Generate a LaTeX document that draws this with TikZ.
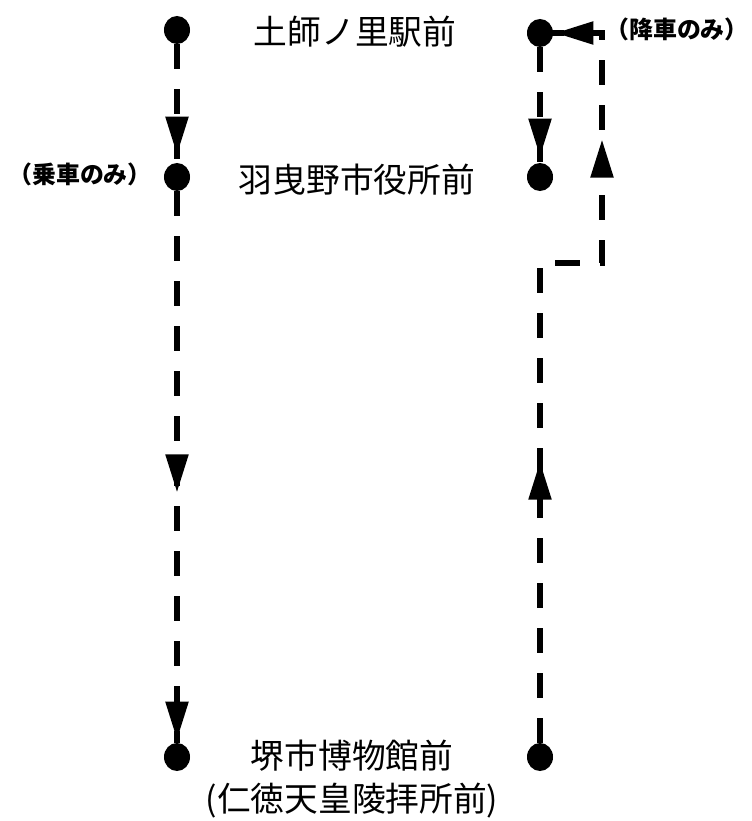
\documentclass[tikz,border=0pt]{standalone}
\usepackage{fontspec}
\newfontfamily\jp{Noto Sans CJK JP}
\usetikzlibrary{positioning,calc,arrows.meta,shapes.geometric,decorations.markings}
\tikzset{
  stopdot/.style={ellipse, fill=black, minimum width=0.65cm, minimum height=0.7cm, inner sep=0pt},
  route/.style={line width=0.13cm, dash pattern=on 0.625cm off 0.5cm},
  routetip/.tip={Triangle[length=0.95cm, width=0.55cm]},
  stopname/.style={font=\jp\fontsize{24pt}{30pt}\selectfont, align=center, inner sep=0pt},
  note/.style={font=\jp\bfseries\fontsize{17pt}{20pt}\selectfont, inner sep=0pt}
}

\begin{document}
\begin{tikzpicture}[x=0.025cm, y=-0.025cm]
	\useasboundingbox (0,0) rectangle (751,821);
	% stops, outbound side
	\node[stopdot] (a1) at (177,30) {};
	\node[stopdot] (a2) at (177,177) {};
	\node[stopdot] (a3) at (177,757) {};
	% stops, return side
	\node[stopdot] (b1) at (540,33) {};
	\node[stopdot] (b2) at (540,177) {};
	\node[stopdot] (b3) at (540,757) {};
	\coordinate (c1) at (540,263);
	\coordinate (c2) at (602,263);
	\coordinate (c3) at (602,33);

	% stop names
	\node[stopname] (hajinosato) at (355,32) {土師ノ里駅前};
	\node[stopname] (habikino)   at (357,180) {羽曳野市役所前};
	\node[stopname] (sakai)      at (352,779) {堺市博物館前\\(仁徳天皇陵拝所前)};
	\node[note] (boarding)  at (80,174) {（乗車のみ）};
	\node[note] (alighting) at (677,29) {（降車のみ）};

	% routes
	\draw[route, postaction={decorate}, decoration={markings,
		mark=at position -0.2cm with {\arrow{routetip}}}] (a1) -- (a2);
	\draw[route, postaction={decorate}, decoration={markings,
		mark=at position 7.525cm with {\arrow{routetip}},
		mark=at position -0.075cm with {\arrow{routetip}}}] (a2) -- (a3);
	\draw[route, postaction={decorate}, decoration={markings,
		mark=at position -0.15cm with {\arrow{routetip}}}] (b1) -- (b2);
	\draw[route, postaction={decorate}, decoration={markings,
		mark=at position 7.025cm with {\arrow{routetip}},
		mark=at position 16.625cm with {\arrow{routetip}},
		mark=at position -0.05cm with {\arrow{routetip}}}] (b3) -- (c1) -- (c2) -- (c3) -- (b1);
\end{tikzpicture}
\end{document}
